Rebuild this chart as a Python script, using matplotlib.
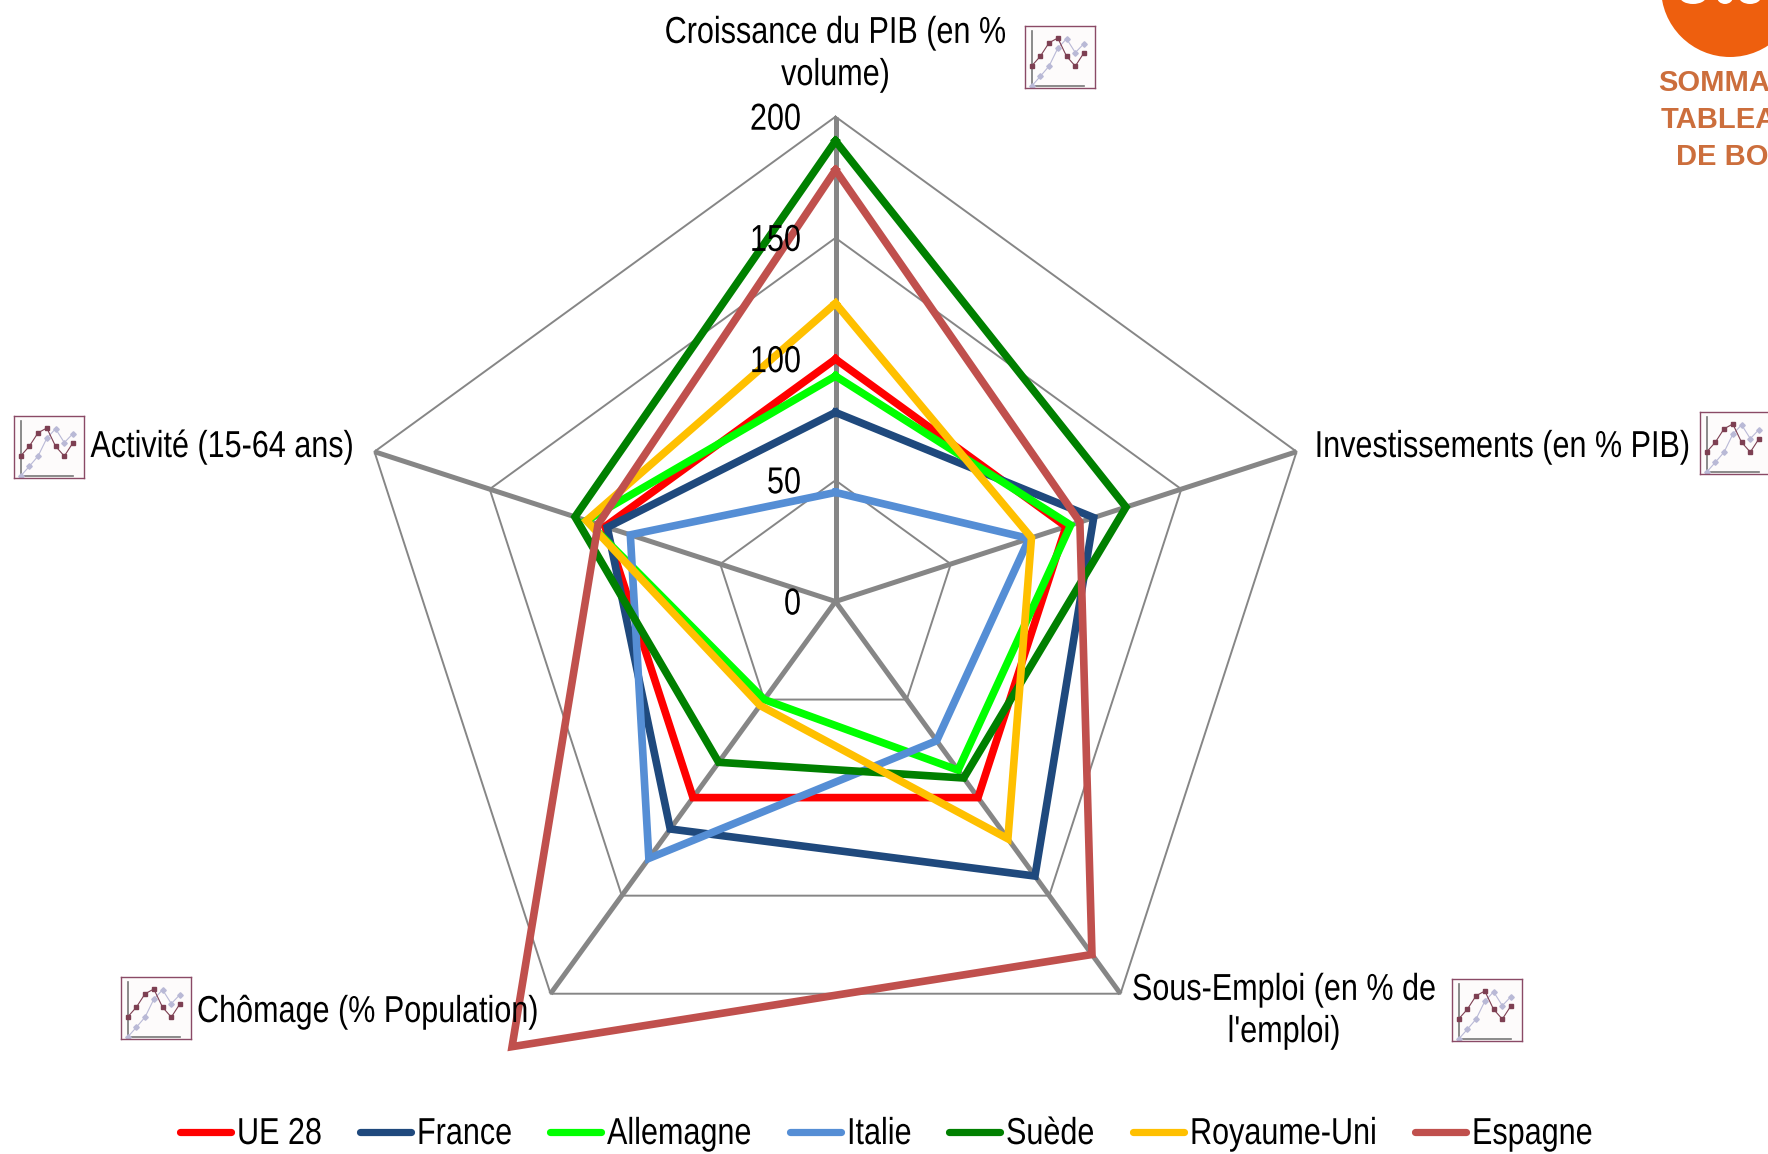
import numpy as np
import matplotlib
matplotlib.use('Agg')
import matplotlib.pyplot as plt
import matplotlib.patches as mpatches
import matplotlib.patheffects as pe
from matplotlib.lines import Line2D
from matplotlib.transforms import Affine2D

W, H = 1768, 1154
plt.rcParams['font.family'] = ['Liberation Sans', 'DejaVu Sans']

# axes du radar, dans le sens horaire depuis le haut
CATEGORIES = ['Croissance du PIB', 'Investissements', 'Sous-Emploi', 'Chômage', 'Activité']
RINGS = [50, 100, 150, 200]
RING_LABELS = ['0', '50', '100', '150', '200']

UE28 = [100, 100, 100, 100, 100]
FRANCE = [78, 112, 140, 116, 99]
ALLEMAGNE = [93, 102, 86, 50, 108]
ITALIE = [45, 84, 71, 131, 89]
SUEDE = [190, 126, 90, 82, 113]
ROYAUME_UNI = [123, 85, 121, 53, 108]
ESPAGNE = [178, 106, 180, 227, 103]

SERIES_NAMES = ['UE 28', 'France', 'Allemagne', 'Italie', 'Suède', 'Royaume-Uni', 'Espagne']
SERIES_VALUES = [UE28, FRANCE, ALLEMAGNE, ITALIE, SUEDE, ROYAUME_UNI, ESPAGNE]
SERIES_COLORS = ['#FF0000', '#1F497D', '#00FF00', '#558ED5', '#008000', '#FFC000', '#C0504D']

# petite vignette "graphique" à côté des libellés
ICON_DARK = [55, 82, 119, 132, 82, 55, 92]
ICON_LIGHT = [0, 27, 55, 104, 130, 92, 117]

fig = plt.figure(figsize=(W / 100, H / 100), dpi=100, facecolor='white')


def px(x, y):
    return x / W, 1 - y / H


class Squeeze(pe.AbstractPathEffect):
    """Police étroite absente : on resserre le texte autour de son point d'ancrage."""

    def __init__(self, anchor_x, factor=0.815):
        super().__init__()
        self.anchor_x = anchor_x
        self.factor = factor

    def draw_path(self, renderer, gc, tpath, affine, rgbFace=None):
        sq = Affine2D().translate(-self.anchor_x, 0).scale(self.factor, 1).translate(self.anchor_x, 0)
        renderer.draw_path(gc, tpath, affine + sq, rgbFace)


def narrow_text(x, y, s, ha='left'):
    fx, fy = px(x, y)
    t = fig.text(fx, fy, s, fontsize=27, ha=ha, va='center', linespacing=1.22, zorder=5)
    t.set_path_effects([Squeeze(x)])
    return t


# ---- radar ----
CX, CY = 835.5, 601.5
RMAX = 250
R_PX = 2.424 * RMAX
ax = fig.add_axes([(CX - R_PX) / W, 1 - (CY + R_PX) / H, 2 * R_PX / W, 2 * R_PX / H],
                  projection='polar')
ax.set_theta_zero_location('N')
ax.set_theta_direction(-1)
ax.set_ylim(0, RMAX)
ax.axis('off')

angles = np.arange(len(CATEGORIES)) * 2 * np.pi / len(CATEGORIES)
closed = np.append(angles, angles[0])

for r in RINGS:
    ax.plot(closed, [r] * len(closed), color='#868686', lw=1.4, zorder=1, clip_on=False)
for a in angles:
    ax.plot([a, a], [0, RINGS[-1]], color='#868686', lw=3.6, zorder=2, clip_on=False,
            solid_capstyle='butt')

for name, vals, color in zip(SERIES_NAMES, SERIES_VALUES, SERIES_COLORS):
    ax.plot(closed, vals + vals[:1], color=color, lw=5.5, zorder=3, clip_on=False,
            solid_joinstyle='miter', label=name)

# graduations
for lab, r in zip(RING_LABELS, [0] + RINGS):
    narrow_text(801, CY - 2.424 * r + 3, lab, ha='right')

# ---- libellés ----
narrow_text(835.5, 54, 'Croissance du PIB (en %\nvolume)', ha='center')
narrow_text(1691, 447, 'Investissements (en % PIB)', ha='right')
narrow_text(1284, 1011, "Sous-Emploi (en % de\nl'emploi)", ha='center')
narrow_text(197, 1012, 'Chômage (% Population)')
narrow_text(354, 447, 'Activité (15-64 ans)', ha='right')


# ---- vignettes ----
def icon(x, y):
    left, top = px(x, y)
    iax = fig.add_axes([left, top - 62 / H, 70 / W, 62 / H], zorder=6)
    iax.set_facecolor('#FDFBFB')
    iax.set_xticks([])
    iax.set_yticks([])
    iax.set_xlim(-0.75, 7.25)
    iax.set_ylim(-5, 165)
    for sp in iax.spines.values():
        sp.set_color('#8A4A66')
        sp.set_linewidth(1.0)
    xs = np.arange(len(ICON_DARK))
    iax.plot([0, 0], [0, 150], color='#777777', lw=1.2)
    iax.plot([0, 6], [0, 0], color='#777777', lw=1.2)
    iax.plot(xs, ICON_LIGHT, color='#B9B9D6', lw=0.8, marker='D', ms=2.8)
    iax.plot(xs, ICON_DARK, color='#7D3F52', lw=0.8, marker='s', ms=2.8)


for ix, iy in [(1025, 26), (1700, 412), (14, 416), (121, 977), (1452, 979)]:
    icon(ix, iy)

# ---- logo coupé en haut à droite ----
fig.add_artist(mpatches.Ellipse(px(1730, -12), 138 / W, 138 / H, transform=fig.transFigure,
                                facecolor='#EE5F0E', edgecolor='none'))
# bas des lettres blanches du logo, seul visible
for lx, lw_ in [(1693, 26), (1725, 16), (1750, 22)]:
    fig.add_artist(mpatches.Ellipse(px(lx, -3), lw_ / W, 14 / H, transform=fig.transFigure,
                                    facecolor='white', edgecolor='none'))
for y, s, xl in [(83, 'SOMMAIRE', 1658), (120, 'TABLEAU', 1661), (157, 'DE BORD', 1676)]:
    fx, fy = px(xl, y)
    fig.text(fx, fy, s, fontsize=21, fontweight='bold', color='#CC6E3C',
             ha='left', va='center')

# ---- légende, posée à la main à cause du texte resserré ----
LEGEND_TEXT_X = [237, 417, 607, 847, 1006, 1190, 1472]
for name, color, tx in zip(SERIES_NAMES, SERIES_COLORS, LEGEND_TEXT_X):
    x0, y0 = px(tx - 57, 1132)
    x1, _ = px(tx - 6, 1132)
    fig.add_artist(Line2D([x0, x1], [y0, y0], color=color, lw=5.2, solid_capstyle='round',
                          transform=fig.transFigure))
    narrow_text(tx, 1134, name)

fig.savefig('out.png', dpi=100)
